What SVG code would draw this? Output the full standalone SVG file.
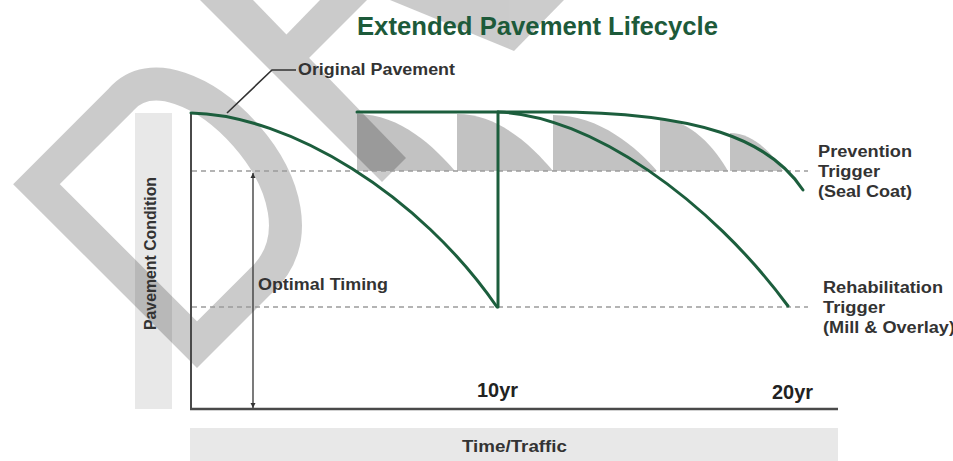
<svg xmlns="http://www.w3.org/2000/svg" width="953" height="461" viewBox="0 0 953 461">
<style>
text { font-family: "Liberation Sans", Arial, sans-serif; font-weight: bold; fill: #333333; }
.title { fill: #1d5a3a; font-size: 25px; }
.lbl { font-size: 16px; }
.yr { font-size: 20px; fill: #222; }
.green { fill: none; stroke: #1c5e3d; stroke-width: 3; stroke-linecap: round; stroke-linejoin: round; }
.dash { stroke: #9c9c9c; stroke-width: 1.6; stroke-dasharray: 5 4; fill: none; }
.band { fill: #e8e8e8; }
.saw { fill: #c2c2c2; }
.axis { stroke: #4a4a4a; fill: none; }
.wm { fill: #000; }
</style>
<defs>
<marker id="ah" viewBox="0 0 10 10" refX="10" refY="5" markerWidth="5" markerHeight="7" orient="auto-start-reverse" markerUnits="userSpaceOnUse">
<path d="M0,0 L10,5 L0,10 Z" fill="#333"/>
</marker>
</defs>
<rect width="953" height="461" fill="#ffffff"/>

<g id="bands">
<rect class="band" x="135" y="113" width="37" height="296"/>
<rect class="band" x="190" y="428" width="648" height="33"/>
</g>

<g id="seal-coat-cycles">
<path class="saw" d="M357,114 C401,114 435,148 455,171 L357,171 Z"/>
<path class="saw" d="M457,114 C500,114 534,148 553,171 L457,171 Z"/>
<path class="saw" d="M553,115 C600,115 637,148 657,171 L553,171 Z"/>
<path class="saw" d="M660,119 C690,119 715,148 728,171 L660,171 Z"/>
<path class="saw" d="M730,133 C752,133 772,152 783,171 L730,171 Z"/>
</g>

<g id="watermark" opacity="0.2">
<path d="M16.5,-16.5 L16.5,-243.5 L136,-243.5 C225,-250 225,-10 106,-16.5 Z" transform="translate(197,368) rotate(-45)" fill="none" stroke="#000" stroke-width="33" stroke-linejoin="miter"/>
<polygon class="wm" points="200,0 253,0 406,158 382,182"/>
<polygon class="wm" points="284,37 307,60 367,0 320,0"/>
<polygon class="wm" points="390,0 564,0 514,51"/>
</g>

<g id="triggers">
<line class="dash" x1="192" y1="171" x2="808" y2="171"/>
<line class="dash" x1="192" y1="307" x2="808" y2="307"/>
</g>

<g id="axes">
<line class="axis" x1="191" y1="112" x2="191" y2="410" stroke-width="2"/>
<line class="axis" x1="190" y1="409" x2="838" y2="409" stroke-width="2.5"/>
</g>

<g id="connectors">
<path id="original-curve" class="green" d="M191,113 C290,115 420,195 497,307"/>
<line class="green" x1="498" y1="112" x2="498" y2="307"/>
<path id="rehab-curve" class="green" d="M498,112 C590,115 710,200 788,306"/>
<path id="extended-curve" class="green" d="M357,112 L550,112 C700,112 770,140 803,190"/>
<line id="optimal-arrow" x1="253" y1="173" x2="253" y2="408" stroke="#333" stroke-width="1.3" marker-start="url(#ah)" marker-end="url(#ah)"/>
<path id="leader" d="M227,113 L272,70 L296,70" fill="none" stroke="#333" stroke-width="1.6"/>
</g>

<g id="title"><text class="title" x="357" y="35" textLength="361" lengthAdjust="spacingAndGlyphs">Extended Pavement Lifecycle</text></g>
<g id="original-pavement"><text class="lbl" x="298" y="75" textLength="157" lengthAdjust="spacingAndGlyphs">Original Pavement</text></g>
<g id="optimal-timing"><text class="lbl" x="258" y="290" textLength="130" lengthAdjust="spacingAndGlyphs">Optimal Timing</text></g>
<g id="y-label"><text class="lbl" transform="translate(156,330) rotate(-90)" textLength="153" lengthAdjust="spacingAndGlyphs">Pavement Condition</text></g>
<g id="x-label"><text x="462" y="452" font-size="17" textLength="105" lengthAdjust="spacingAndGlyphs">Time/Traffic</text></g>
<g id="ticks">
<text class="yr" x="477" y="397" textLength="41" lengthAdjust="spacingAndGlyphs">10yr</text>
<text class="yr" x="772" y="399" textLength="41" lengthAdjust="spacingAndGlyphs">20yr</text>
</g>
<g id="prevention-trigger">
<text class="lbl" x="818" y="157" textLength="94" lengthAdjust="spacingAndGlyphs">Prevention</text>
<text class="lbl" x="818" y="177" textLength="62" lengthAdjust="spacingAndGlyphs">Trigger</text>
<text class="lbl" x="818" y="197" textLength="94" lengthAdjust="spacingAndGlyphs">(Seal Coat)</text>
</g>
<g id="rehabilitation-trigger">
<text class="lbl" x="823" y="293" textLength="120" lengthAdjust="spacingAndGlyphs">Rehabilitation</text>
<text class="lbl" x="823" y="313" textLength="62" lengthAdjust="spacingAndGlyphs">Trigger</text>
<text class="lbl" x="823" y="333" textLength="132" lengthAdjust="spacingAndGlyphs">(Mill &amp; Overlay)</text>
</g>
</svg>
